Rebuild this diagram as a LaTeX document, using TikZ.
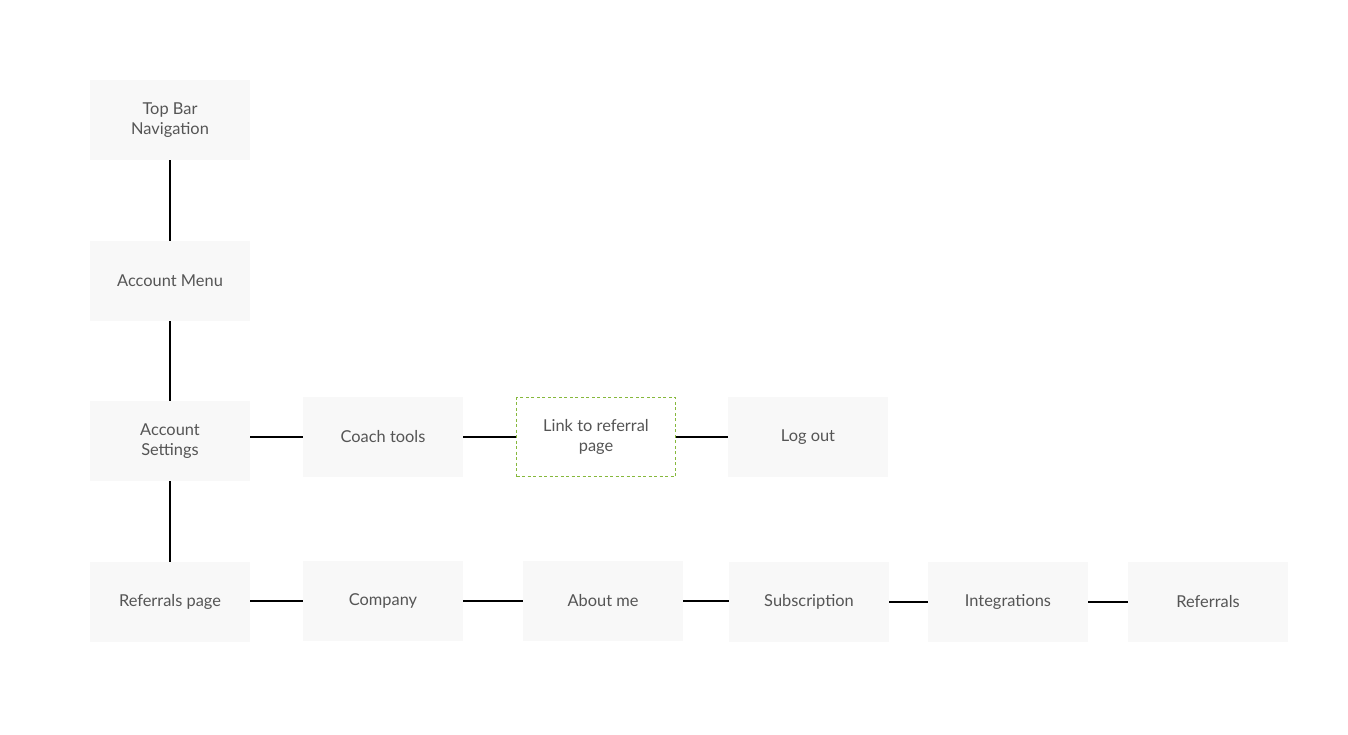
\documentclass[tikz,border=0pt]{standalone}
\usepackage{fontspec}
\setmainfont{Lato}
\definecolor{boxfill}{HTML}{F8F8F8}
\definecolor{txt}{HTML}{555555}
\definecolor{dgreen}{HTML}{86B83C}
\begin{document}
\begin{tikzpicture}[x=1pt,y=-1pt,
  box/.style={fill=boxfill, draw=none, minimum width=160pt, minimum height=80pt, inner sep=0pt,
    align=center, text=txt, font=\fontsize{16.4}{20}\selectfont},
  dbox/.style={box, draw=dgreen, dash pattern=on 3pt off 2.5pt, line width=0.8pt, fill=white, minimum width=159pt, minimum height=79pt},
  link/.style={draw=black, line width=1.6pt}]
\useasboundingbox (0,0) rectangle (1348,735);
\node[box] (top) at (170,120) {Top Bar\\Navigation};
\node[box] (menu) at (170,281) {Account Menu};
\node[box] (settings) at (170,441) {Account\\Settings};
\node[box] (refpage) at (170,602) {Referrals page};
\node[box] (coach) at (383,437) {Coach tools};
\node[dbox] (link) at (596,437) {Link to referral\\page};
\node[box] (logout) at (808,437) {Log out};
\node[box] (company) at (383,601) {Company};
\node[box] (about) at (603,601) {About me};
\node[box] (sub) at (809,602) {Subscription};
\node[box] (integ) at (1008,602) {Integrations};
\node[box] (refs) at (1208,602) {Referrals};
\draw[link] (top) -- (menu);
\draw[link] (menu) -- (settings);
\draw[link] (settings) -- (refpage);
\draw[link] (settings.east |- coach.west) -- (coach.west);
\draw[link] (coach) -- (link);
\draw[link] (link) -- (logout);
\draw[link] (refpage.east |- company.west) -- (company.west);
\draw[link] (company) -- (about);
\draw[link] (about.east) -- (about.east -| sub.west);
\draw[link] (sub) -- (integ);
\draw[link] (integ) -- (refs);
\end{tikzpicture}
\end{document}
